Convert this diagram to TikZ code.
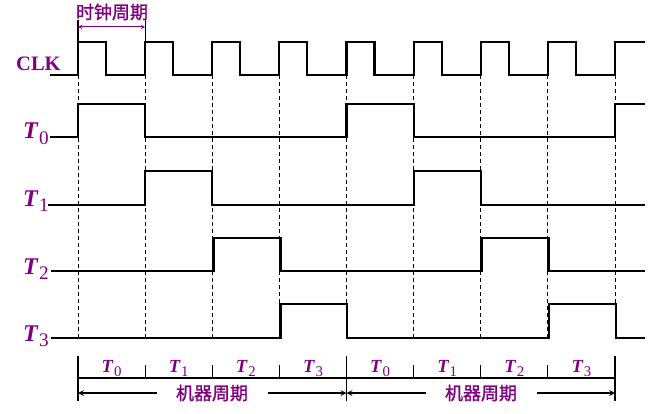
\documentclass[tikz,border=0pt]{standalone}
\usepackage{fontspec}
\setmainfont{Liberation Serif}
\newfontfamily\cjk[FakeBold=1.2]{Noto Sans CJK SC}
\definecolor{lbl}{RGB}{128,0,128}
\newcommand{\Tlab}[1]{\textbf{\textit{T}}\kern0.5pt\raisebox{-0.22em}{\scalebox{0.8}{#1}}}
\tikzset{
  wave/.style={line width=2.2pt, line join=miter},
  grid/.style={densely dashed, line width=0.9pt, dash pattern=on 4pt off 3pt},
  tick/.style={line width=1.1pt},
  sig/.style={text=lbl, font=\fontsize{24}{24}\selectfont, inner sep=0pt, anchor=base west},
  slot/.style={text=lbl, font=\fontsize{18.5}{18.5}\selectfont, inner sep=0pt, anchor=base},
  cn/.style={text=lbl, font=\cjk\fontsize{18}{18}\selectfont, inner sep=0pt},
  >=stealth
}
\begin{document}
\begin{tikzpicture}[x=1pt, y=-1pt]
\useasboundingbox (0,0) rectangle (666,414);
%signal names
\node[sig, font=\bfseries\fontsize{20.5}{20.5}\selectfont] at (16,71) (clk) {CLK};
\node[sig] at (23,139) (t0) {\Tlab{0}};
\node[sig] at (23,206) (t1) {\Tlab{1}};
\node[sig] at (23,274) (t2) {\Tlab{2}};
\node[sig] at (23,341) (t3) {\Tlab{3}};
%dashed grid
\foreach \i in {0,...,8}
  \draw[grid] ({78+67.125*\i},75) -- ({78+67.125*\i},338);
%clock
\draw[wave] (50,75) \foreach \i in {0,...,7} { -- ({78+67.125*\i},75) -- ++(0,-33) -- ++(28,0) -- ++(0,33) }
  -- (615,75) -- (615,42) -- (645,42);
%T0
\draw[wave] (50,137) -- (78,137) -- (78,104) -- (145.1,104) -- (145.1,137) -- (346.5,137) -- (346.5,104)
  -- (413.6,104) -- (413.6,137) -- (615,137) -- (615,104) -- (645,104);
%T1
\draw[wave] (48,205) -- (145.1,205) -- (145.1,171) -- (212.3,171) -- (212.3,205) -- (413.6,205)
  -- (413.6,171) -- (480.8,171) -- (480.8,205) -- (645,205);
%T2
\draw[wave] (51,271) -- (213.5,271) -- (213.5,238) -- (280.5,238) -- (280.5,271) -- (481.5,271)
  -- (481.5,238) -- (548.5,238) -- (548.5,271) -- (645,271);
%T3
\draw[wave] (51,338) -- (280.5,338) -- (280.5,304) -- (347,304) -- (347,338) -- (549,338)
  -- (549,304) -- (616,304) -- (616,338) -- (645,338);
%clock period
\node[cn] at (112,12) (clkper) {时钟周期};
\coordinate (cp0) at (78,27);
\coordinate (cp1) at (145.1,27);
\draw[tick] (78,20) -- (78,42);
\draw[tick] (145.1,20) -- (145.1,42);
\draw[<->, lbl, line width=1pt] (cp0) -- (cp1);
%slot scale
\draw[tick] (78,378) -- (615,378);
\foreach \i in {0,4,8}
  \draw[tick] ({78+67.125*\i},356) -- ({78+67.125*\i},401);
\foreach \i in {1,2,3,5,6,7}
  \draw[tick] ({78+67.125*\i},365) -- ({78+67.125*\i},378);
\node[slot] at (111.6,372) (s0) {\Tlab{0}};
\node[slot] at (178.7,372) (s1) {\Tlab{1}};
\node[slot] at (245.8,372) (s2) {\Tlab{2}};
\node[slot] at (313,372) (s3) {\Tlab{3}};
\node[slot] at (380,372) (s4) {\Tlab{0}};
\node[slot] at (447.2,372) (s5) {\Tlab{1}};
\node[slot] at (514.3,372) (s6) {\Tlab{2}};
\node[slot] at (581.4,372) (s7) {\Tlab{3}};
%machine cycles
\node[cn] at (212,393) (mc1) {机器周期};
\node[cn] at (481,393) (mc2) {机器周期};
\coordinate (a0) at (78,393);
\coordinate (a1) at (157,393);
\coordinate (a2) at (268,393);
\coordinate (a3) at (346.5,393);
\coordinate (a4) at (426,393);
\coordinate (a5) at (537,393);
\coordinate (a6) at (615,393);
\draw[<-, line width=1.6pt] (a0) -- (a1);
\draw[->, line width=1.6pt] (a2) -- (a3);
\draw[<-, line width=1.6pt] (a3) -- (a4);
\draw[->, line width=1.6pt] (a5) -- (a6);
\end{tikzpicture}
\end{document}
